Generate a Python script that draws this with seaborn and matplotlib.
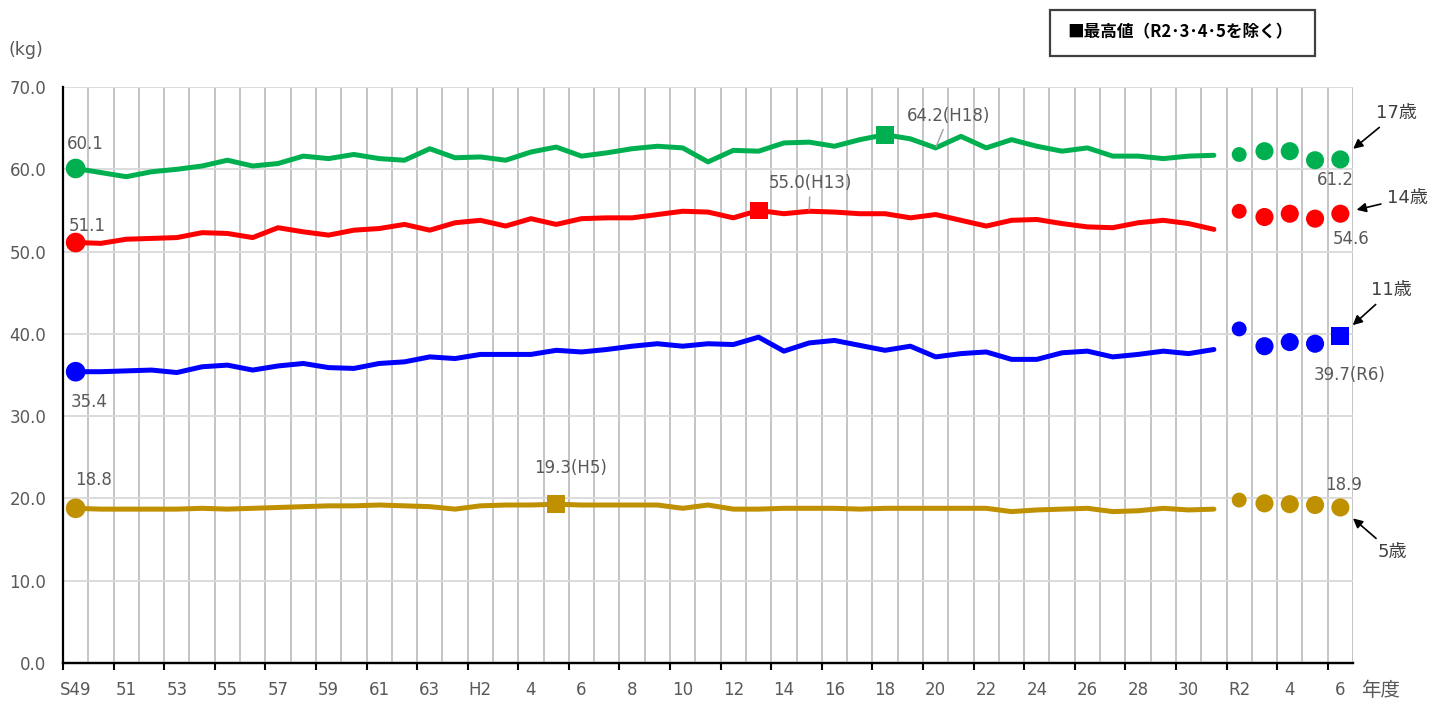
import numpy as np
import pandas as pd
import matplotlib
matplotlib.use("Agg")
import matplotlib.pyplot as plt
import seaborn as sns
from matplotlib.ticker import FixedLocator
from matplotlib.patches import Rectangle

# ---------------- data ----------------
years_line = list(range(1974, 2020))          # S49 ... H31 (continuous line)
years_recent = [2020, 2021, 2022, 2023, 2024]  # R2 ... R6 (markers only)
tick_labels = ['S49', '51', '53', '55', '57', '59', '61', '63', 'H2', '4', '6', '8',
               '10', '12', '14', '16', '18', '20', '22', '24', '26', '28', '30',
               'R2', '4', '6']
ages = ['17歳', '14歳', '11歳', '5歳']

w17 = [60.1, 59.6, 59.1, 59.7, 60.0, 60.4, 61.1, 60.4, 60.7, 61.6, 61.3, 61.8,
       61.3, 61.1, 62.5, 61.4, 61.5, 61.1, 62.1, 62.7, 61.6, 62.0, 62.5, 62.8,
       62.6, 60.9, 62.3, 62.2, 63.2, 63.3, 62.8, 63.6, 64.2, 63.7, 62.6, 64.0,
       62.6, 63.6, 62.8, 62.2, 62.6, 61.6, 61.6, 61.3, 61.6, 61.7]
w14 = [51.1, 51.0, 51.5, 51.6, 51.7, 52.3, 52.2, 51.7, 52.9, 52.4, 52.0, 52.6,
       52.8, 53.3, 52.6, 53.5, 53.8, 53.1, 54.0, 53.3, 54.0, 54.1, 54.1, 54.5,
       54.9, 54.8, 54.1, 55.0, 54.6, 54.9, 54.8, 54.6, 54.6, 54.1, 54.5, 53.8,
       53.1, 53.8, 53.9, 53.4, 53.0, 52.9, 53.5, 53.8, 53.4, 52.7]
w11 = [35.4, 35.4, 35.5, 35.6, 35.3, 36.0, 36.2, 35.6, 36.1, 36.4, 35.9, 35.8,
       36.4, 36.6, 37.2, 37.0, 37.5, 37.5, 37.5, 38.0, 37.8, 38.1, 38.5, 38.8,
       38.5, 38.8, 38.7, 39.6, 37.9, 38.9, 39.2, 38.6, 38.0, 38.5, 37.2, 37.6,
       37.8, 36.9, 36.9, 37.7, 37.9, 37.2, 37.5, 37.9, 37.6, 38.1]
w5 = [18.8, 18.7, 18.7, 18.7, 18.7, 18.8, 18.7, 18.8, 18.9, 19.0, 19.1, 19.1,
      19.2, 19.1, 19.0, 18.7, 19.1, 19.2, 19.2, 19.3, 19.2, 19.2, 19.2, 19.2,
      18.8, 19.2, 18.7, 18.7, 18.8, 18.8, 18.8, 18.7, 18.8, 18.8, 18.8, 18.8,
      18.8, 18.4, 18.6, 18.7, 18.8, 18.4, 18.5, 18.8, 18.6, 18.7]
r17 = [61.8, 62.2, 62.2, 61.1, 61.2]
r14 = [54.9, 54.2, 54.6, 54.0, 54.6]
r11 = [40.6, 38.5, 39.0, 38.8, 39.7]
r5 = [19.8, 19.4, 19.3, 19.2, 18.9]

line_vals = {'17歳': w17, '14歳': w14, '11歳': w11, '5歳': w5}
recent_vals = {'17歳': r17, '14歳': r14, '11歳': r11, '5歳': r5}
colors = {'17歳': '#00B050', '14歳': '#FF0000', '11歳': '#0000FF', '5歳': '#BF9000'}

all_years = years_line + years_recent
pos = {y: i for i, y in enumerate(all_years)}


def era(y):
    if y >= 2019:
        return f"R{y - 2018}"
    if y >= 1989:
        return f"H{y - 1988}"
    return f"S{y - 1925}"


# ---------------- tables ----------------
rows = []
for a in ages:
    for y, v in zip(years_line, line_vals[a]):
        rows.append(dict(age=a, year=y, idx=pos[y], kg=v, kind='line'))
    for y, v in zip(years_recent, recent_vals[a]):
        rows.append(dict(age=a, year=y, idx=pos[y], kg=v, kind='recent'))
df = pd.DataFrame(rows)

# maximum excluding R2-R5
max_rows = []
for a in ages:
    sub = df[(df.age == a) & ~df.year.isin([2020, 2021, 2022, 2023])]
    max_rows.append(sub.loc[sub.kg.idxmax()])
df_max = pd.DataFrame(max_rows)

# ---------------- figure ----------------
sns.set_theme(style="white")
plt.rcParams['font.family'] = ['DejaVu Sans', 'Noto Sans CJK JP']

W, H = 1446, 707
fig = plt.figure(figsize=(W / 100, H / 100), dpi=100)
ax = fig.add_axes([63 / W, 1 - 663 / H, (1353 - 63) / W, (663 - 87) / H])

df_line = df[df.kind == 'line']
sns.lineplot(data=df_line, x='idx', y='kg', hue='age', palette=colors,
             linewidth=3.6, legend=False, ax=ax, errorbar=None,
             solid_joinstyle='round', solid_capstyle='round', zorder=3)

# first-year markers
sns.scatterplot(data=df_line[df_line.year == years_line[0]], x='idx', y='kg',
                hue='age', palette=colors, s=200, linewidth=0, legend=False,
                ax=ax, zorder=4)

# recent markers (circles), excluding those drawn as max squares
df_rec = df[df.kind == 'recent']
max_keys = set(zip(df_max.age, df_max.year))
df_rec = df_rec[[(a, y) not in max_keys for a, y in zip(df_rec.age, df_rec.year)]]
sns.scatterplot(data=df_rec[df_rec.year == 2020], x='idx', y='kg', hue='age',
                palette=colors, s=115, linewidth=0, legend=False, ax=ax, zorder=4)
sns.scatterplot(data=df_rec[df_rec.year > 2020], x='idx', y='kg', hue='age',
                palette=colors, s=170, linewidth=0, legend=False, ax=ax, zorder=4)

# maximum markers (squares)
sns.scatterplot(data=df_max, x='idx', y='kg', hue='age', palette=colors,
                marker='s', s=165, linewidth=0, legend=False, ax=ax, zorder=5)

# ---------------- axes ----------------
n = len(all_years)
fs = 12
val_col = '#595959'
ax.set_xlim(-0.5, n - 0.5)
ax.set_ylim(0, 70)
ax.set_yticks(np.arange(0, 71, 10))
ax.set_yticklabels([f"{v:.1f}" for v in np.arange(0, 71, 10)])
ax.set_xticks(np.arange(0, n, 2))
ax.set_xticklabels(tick_labels)
ax.xaxis.set_minor_locator(FixedLocator(np.arange(-0.5, n, 1)))
ax.grid(False)
ax.grid(which='minor', axis='x', color='#BFBFBF', linewidth=1.3)
ax.grid(which='major', axis='y', color='#D9D9D9', linewidth=1.3)
ax.set_axisbelow(True)
ax.tick_params(axis='x', which='both', length=0, pad=13, labelsize=fs,
               labelcolor=val_col)
ax.tick_params(axis='y', length=0, pad=12, labelsize=fs, labelcolor=val_col)
for s in ['top', 'right']:
    ax.spines[s].set_visible(False)
for s in ['left', 'bottom']:
    ax.spines[s].set_color('black')
    ax.spines[s].set_linewidth(1.6)
    ax.spines[s].set_zorder(6)
ax.set_xlabel('')
ax.set_ylabel('')

sec = ax.secondary_xaxis('bottom')
sec.set_xticks(np.arange(-0.5, n, 2))
sec.tick_params(length=5, width=1.5, color='black', labelbottom=False)
sec.spines['bottom'].set_color('black')
sec.spines['bottom'].set_linewidth(1.6)

# ---------------- annotations ----------------


def lab(i, v, text, dx, dy, **kw):
    ax.annotate(text, xy=(i, v), xytext=(dx, dy), textcoords='offset pixels',
                ha='center', va='center', fontsize=fs, color=val_col, **kw)


first = {a: line_vals[a][0] for a in ages}
lab(0, first['17歳'], f"{first['17歳']:.1f}", 10, 24)
lab(0, first['14歳'], f"{first['14歳']:.1f}", 12, 17)
lab(0, first['11歳'], f"{first['11歳']:.1f}", 13, -30)
lab(0, first['5歳'], f"{first['5歳']:.1f}", 18, 28)

last = {a: recent_vals[a][-1] for a in ages}
lab(n - 1, last['17歳'], f"{last['17歳']:.1f}", -5, -21)
lab(n - 1, last['14歳'], f"{last['14歳']:.1f}", 11, -25)
lab(n - 1, last['5歳'], f"{last['5歳']:.1f}", 3, 22)

mx = {r.age: r for r in df_max.itertuples()}
m = mx['5歳']
lab(m.idx, m.kg, f"{m.kg:.1f}({era(m.year)})", 14, 36)
m = mx['11歳']
lab(m.idx, m.kg, f"{m.kg:.1f}({era(m.year)})", 9, -39)

leader = dict(arrowstyle='-', color='#A6A6A6', lw=1.1, shrinkA=1, shrinkB=1)
m = mx['14歳']
lab(29, w14[29], f"{m.kg:.1f}({era(m.year)})", 1, 28, arrowprops=leader)
m = mx['17歳']
lab(34, w17[34], f"{m.kg:.1f}({era(m.year)})", 13, 32, arrowprops=leader)

arrow = dict(arrowstyle='-|>', color='black', lw=1.2, shrinkA=2, shrinkB=12,
             mutation_scale=14)
age_off = {'17歳': (56, 46), '14歳': (67, 16), '11歳': (51, 46), '5歳': (52, -45)}
for a in ages:
    dx, dy = age_off[a]
    ax.annotate(a, xy=(n - 1, last[a]), xytext=(dx, dy), textcoords='offset pixels',
                ha='center', va='center', fontsize=13, color='#404040',
                arrowprops=arrow, annotation_clip=False)

# figure texts
fig.text(26 / W, 1 - 50 / H, '(kg)', ha='center', va='center', fontsize=12.5,
         color=val_col)
fig.text(1381 / W, 1 - 690 / H, '年度', ha='center', va='center', fontsize=14,
         color=val_col, family=['Noto Sans CJK JP'])
fig.patches.append(Rectangle((1050 / W, 1 - 56 / H), 265 / W, 46 / H,
                             transform=fig.transFigure, fill=True, fc='white',
                             ec='#404040', lw=1.6))
fig.text(1180 / W, 1 - 32 / H, '■最高値（R2･3･4･5を除く）', ha='center',
         va='center', fontsize=12, fontweight='bold', color='black',
         family=['Noto Sans CJK JP', 'DejaVu Sans'])

fig.savefig('out.png', dpi=100, facecolor='white')
